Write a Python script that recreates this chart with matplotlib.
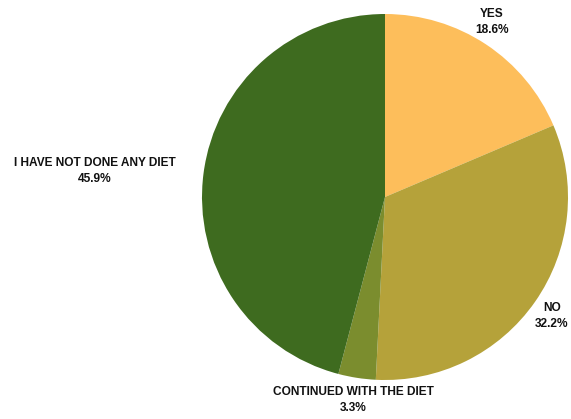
import matplotlib.pyplot as plt

labels = ["YES", "NO", "CONTINUED WITH THE DIET", "I HAVE NOT DONE ANY DIET"]
shares = [18.6, 32.2, 3.3, 45.9]
colors = ["#FDBE5B", "#B5A23A", "#7B8D2E", "#3E6B1F"]

W, H = 571, 419
fig = plt.figure(figsize=(W / 100, H / 100), dpi=100)
ax = fig.add_axes([0, 0, 1, 1])

ax.pie(shares, colors=colors, startangle=90, counterclock=False,
       center=(385, H - 197), radius=183, frame=True,
       wedgeprops=dict(linewidth=0))
ax.set_xlim(0, W)
ax.set_ylim(0, H)
ax.set_aspect("equal")
ax.axis("off")

# label anchors in pixel space (x, y from top)
label_pos = [(492, 22), (552, 316), (353, 400), (95, 171)]
for name, val, (x, y) in zip(labels, shares, label_pos):
    ax.text(x, H - y, f"{name}\n{val:.1f}%", ha="center", va="center",
            fontsize=8.6, fontweight="bold", family="Liberation Sans",
            linespacing=1.55, color="#111111")

fig.savefig("out.png", dpi=100)
